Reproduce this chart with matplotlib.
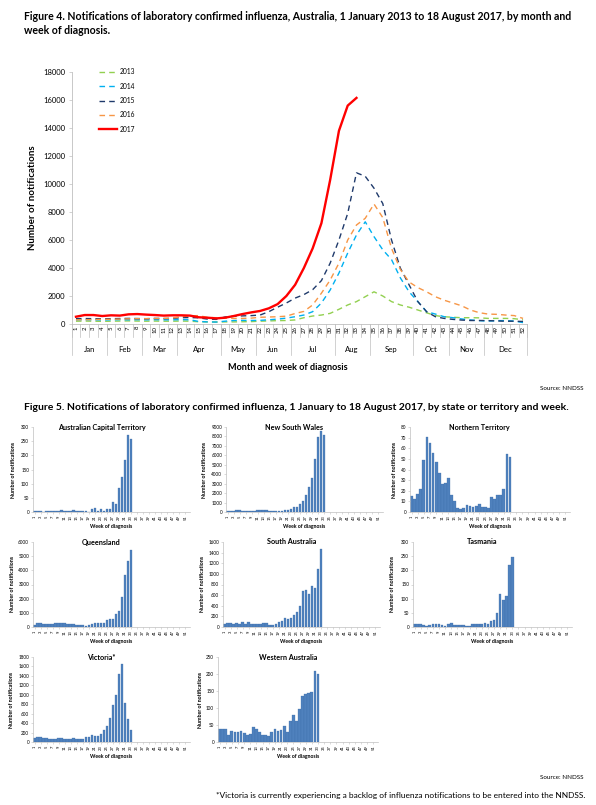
import numpy as np
import matplotlib.pyplot as plt
from matplotlib.transforms import blended_transform_factory

plt.rcParams['font.family'] = ['Lato', 'DejaVu Sans']

# ---- Figure 4 data: weekly national notifications ----
weeks = list(range(1, 53))
months = ['Jan', 'Feb', 'Mar', 'Apr', 'May', 'Jun', 'Jul', 'Aug', 'Sep', 'Oct', 'Nov', 'Dec']
month_weeks = [4, 4, 4, 5, 4, 4, 5, 4, 5, 4, 4, 5]

y2013 = [200, 210, 200, 190, 200, 210, 220, 210, 200, 210,
         200, 200, 210, 200, 160, 150, 140, 150, 150, 160,
         170, 200, 220, 240, 250, 290, 450, 570, 640, 760,
         1050, 1360, 1600, 1950, 2300, 2000, 1600, 1360, 1200, 1000,
         800, 600, 520, 480, 450, 450, 440, 400, 400, 400,
         380, 300]
y2014 = [300, 310, 300, 290, 300, 310, 300, 310, 300, 310,
         300, 300, 310, 300, 180, 150, 140, 200, 250, 260,
         250, 260, 300, 350, 420, 520, 640, 880, 1500, 2430,
         3640, 5070, 6360, 7300, 6240, 5300, 4600, 3300, 2300, 1600,
         880, 710, 520, 450, 360, 290, 240, 210, 240, 240,
         210, 100]
y2015 = [380, 390, 380, 370, 380, 390, 400, 390, 380, 400,
         390, 400, 450, 460, 440, 350, 330, 500, 550, 580,
         600, 640, 880, 1200, 1500, 1850, 2100, 2450, 3100, 4350,
         6000, 7900, 10800, 10550, 9700, 8600, 6000, 4000, 2800, 1600,
         880, 520, 400, 330, 280, 250, 250, 240, 220, 200,
         200, 180]
y2016 = [300, 310, 320, 330, 340, 350, 370, 380, 380, 390,
         400, 420, 520, 580, 600, 470, 450, 420, 400, 400,
         420, 480, 500, 520, 560, 750, 900, 1360, 2200, 3140,
         4350, 6000, 7070, 7550, 8570, 7600, 5400, 3900, 3000, 2600,
         2300, 1950, 1700, 1500, 1300, 1000, 810, 710, 690, 640,
         600, 400]
y2017 = [520, 640, 640, 570, 620, 600, 690, 710, 670, 640,
         600, 620, 620, 600, 480, 450, 400, 450, 570, 710,
         830, 930, 1120, 1420, 2000, 2800, 4000, 5400, 7200, 10300,
         13800, 15600, 16150]

# ---- Figure 5 data: 2017 weekly notifications by jurisdiction ----
act = [2, 5, 2, 1, 2, 5, 4, 3, 4, 7, 3, 2, 3, 8, 4, 5, 4, 4, 1, 9,
       14, 3, 10, 4, 9, 11, 36, 30, 83, 124, 183, 271, 257]
nsw = [120, 150, 130, 180, 170, 120, 130, 130, 120, 140, 160, 180, 200, 170, 110, 90,
       100, 110, 150, 220, 250, 350, 500, 550, 800, 1200, 1800, 2600, 3550, 5600,
       7950, 8550, 8150]
nt = [15, 12, 17, 22, 49, 71, 65, 56, 47, 37, 26, 27, 32, 16, 10, 4, 3, 4, 7, 6,
      5, 6, 8, 5, 5, 4, 14, 12, 16, 16, 22, 55, 52]
qld = [150, 250, 270, 200, 190, 200, 230, 300, 250, 250, 270, 200, 180, 180, 150, 150,
       160, 90, 160, 200, 250, 270, 280, 300, 500, 550, 600, 900, 1150, 2100,
       3650, 4650, 5450]
sa = [60, 70, 70, 60, 80, 60, 100, 60, 100, 60, 50, 50, 50, 70, 70, 40, 40, 50, 100,
      110, 170, 160, 170, 220, 290, 390, 680, 690, 620, 770, 740, 1100, 1470]
tas = [10, 9, 9, 7, 2, 6, 10, 9, 11, 7, 2, 11, 13, 7, 8, 7, 7, 5, 5, 10, 10, 10, 11,
       14, 10, 20, 25, 50, 117, 96, 110, 220, 247]
vic = [75, 100, 100, 75, 90, 60, 70, 70, 80, 75, 70, 65, 60, 75, 70, 55, 55, 100, 110,
       140, 130, 130, 170, 250, 330, 510, 780, 1000, 1430, 1650, 830, 480, 250]
wa = [38, 37, 37, 22, 32, 30, 30, 32, 27, 22, 25, 44, 37, 30, 22, 22, 18, 30, 38, 32,
      34, 47, 30, 63, 78, 63, 96, 135, 140, 145, 146, 210, 200]

W, H = 596, 805
fig = plt.figure(figsize=(W / 100, H / 100), dpi=100)
GRAY = '#BFBFBF'
BLUE = '#4F81BD'


def px_axes(left, top, right, bottom):
    """Add axes given pixel edges measured from the top-left corner."""
    return fig.add_axes([left / W, 1 - bottom / H, (right - left) / W, (bottom - top) / H])


# ---------------- Figure 4 ----------------
fig.text(24 / W, 1 - 17 / H, 'Figure 4. Notifications of laboratory confirmed influenza, Australia, '
         '1 January 2013 to 18 August 2017, by month and', fontsize=7.6, fontweight='bold', va='center')
fig.text(24 / W, 1 - 31 / H, 'week of diagnosis.', fontsize=7.6, fontweight='bold', va='center')

ax = px_axes(71.6, 72, 527.4, 324)
series = [
    ('2013', y2013, '#92D050', (0, (4, 3)), 1.0),
    ('2014', y2014, '#00B0F0', (0, (4, 3)), 1.0),
    ('2015', y2015, '#1F3A6B', (0, (4, 3)), 1.0),
    ('2016', y2016, '#F79646', (0, (4, 3)), 1.0),
    ('2017', y2017, '#FF0000', '-', 1.7),
]
for label, vals, color, style, lw in series:
    ax.plot(weeks[:len(vals)], vals, color=color, linestyle=style, linewidth=lw, label=label)

ax.set_xlim(0.5, 52.5)
ax.set_ylim(0, 18000)
ax.set_yticks(range(0, 18001, 2000))
ax.tick_params(axis='y', labelsize=5.5, length=2.5, width=0.5, color=GRAY, pad=2)
ax.tick_params(axis='x', length=0, labelbottom=False)
for s in ['top', 'right']:
    ax.spines[s].set_visible(False)
ax.spines['left'].set_color(GRAY)
ax.spines['bottom'].set_color(GRAY)
ax.spines['left'].set_linewidth(0.6)
ax.spines['bottom'].set_linewidth(0.6)
ax.set_ylabel('Number of notifications', fontsize=7.0, fontweight='bold')
ax.yaxis.set_label_coords((37 - 71.6) / 455.8, 0.5)

trans = blended_transform_factory(ax.transData, ax.transAxes)
for w in weeks:
    ax.text(w, -0.008, str(w), transform=trans, rotation=90, ha='center', va='top', fontsize=4.3)
for b in np.arange(0.5, 53):
    ax.plot([b, b], [0, -0.05], transform=trans, color=GRAY, lw=0.5, clip_on=False)
edges = np.concatenate([[0], np.cumsum(month_weeks)]) + 0.5
for i, m in enumerate(months):
    ax.text((edges[i] + edges[i + 1]) / 2, -0.103, m, transform=trans, ha='center', va='center', fontsize=5.6)
for e in edges:
    ax.plot([e, e], [0, -0.125], transform=trans, color=GRAY, lw=0.5, clip_on=False)

ax.legend(loc='upper left', bbox_to_anchor=(0.06, 1.015), frameon=False, fontsize=4.8,
          handlelength=2.7, handletextpad=0.45, labelspacing=1.1, borderpad=0, borderaxespad=0)

fig.text(288 / W, 1 - 367 / H, 'Month and week of diagnosis', fontsize=6.6, fontweight='bold',
         ha='center', va='center')
fig.text(583 / W, 1 - 388 / H, 'Source: NNDSS', fontsize=4.5, ha='right', va='center')

# ---------------- Figure 5 ----------------
fig.text(24 / W, 1 - 407 / H, 'Figure 5. Notifications of laboratory confirmed influenza, 1 January to '
         '18 August 2017, by state or territory and week.', fontsize=7.5, fontweight='bold', va='center')

panels = [
    ('Australian Capital Territory', act, 300, 50, (33, 427, 190, 512), 16),
    ('New South Wales', nsw, 9000, 1000, (226, 427, 383, 512), 207),
    ('Northern Territory', nt, 80, 10, (410, 427, 570, 512), 397),
    ('Queensland', qld, 6000, 1000, (33, 542, 190, 627), 15),
    ('South Australia', sa, 1600, 200, (223, 542, 380, 627), 205),
    ('Tasmania', tas, 300, 50, (413, 542, 572, 627), 395),
    ('Victoria*', vic, 1800, 200, (33, 657, 190, 742), 14),
    ('Western Australia', wa, 250, 50, (218, 657, 378, 742), 203),
]

for name, vals, ymax, ystep, rect, ylab_x in panels:
    sax = px_axes(*rect)
    sax.bar(range(1, len(vals) + 1), vals, width=0.88, color=BLUE, edgecolor='#3C6CA8', linewidth=0.2)
    sax.set_xlim(0.5, 52.5)
    sax.set_ylim(0, ymax)
    sax.set_yticks(np.arange(0, ymax + 1, ystep))
    sax.set_xticks(range(1, 53, 2))
    sax.set_xticklabels([str(w) for w in range(1, 53, 2)], rotation=90)
    sax.tick_params(axis='y', labelsize=3.3, length=1.2, width=0.4, color=GRAY, pad=1.5)
    sax.tick_params(axis='x', labelsize=3.0, length=1.2, width=0.4, color=GRAY, pad=1.2)
    for s in ['top', 'right']:
        sax.spines[s].set_visible(False)
    for s in ['left', 'bottom']:
        sax.spines[s].set_color(GRAY)
        sax.spines[s].set_linewidth(0.5)
    sax.text(0.436, 1.0, name, transform=sax.transAxes, ha='center', va='center',
             fontsize=5.2, fontweight='bold')
    width_px = rect[2] - rect[0]
    sax.set_ylabel('Number of notifications', fontsize=3.8, fontweight='bold')
    sax.yaxis.set_label_coords((ylab_x - rect[0]) / width_px, 0.5)
    fig.text((rect[0] + rect[2]) / 2 / W, 1 - (rect[3] + 14) / H, 'Week of diagnosis',
             fontsize=3.7, fontweight='bold', ha='center', va='center')

fig.text(583 / W, 1 - 777 / H, 'Source: NNDSS', fontsize=4.5, ha='right', va='center')
fig.text(585 / W, 1 - 795 / H, '*Victoria is currently experiencing a backlog of influenza '
         'notifications to be entered into the NNDSS.', fontsize=6.0, ha='right', va='center')

fig.savefig('out.png', dpi=100)
